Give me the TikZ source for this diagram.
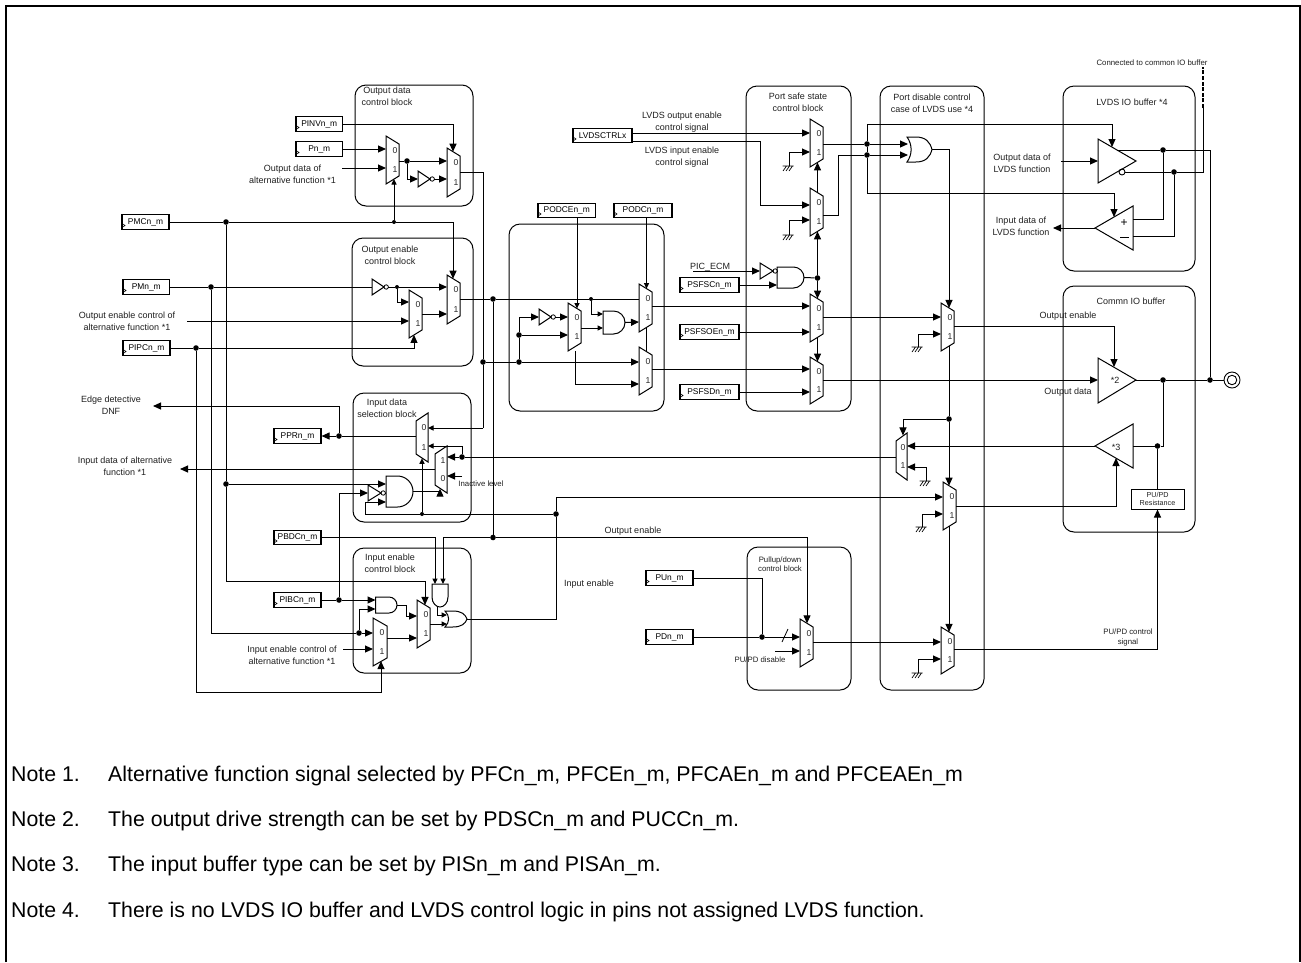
\documentclass[tikz,border=0pt]{standalone}
\usepackage{fontspec}
\setmainfont{Liberation Sans}
\usetikzlibrary{arrows.meta,calc}
\tikzset{
 sig/.style={line width=1pt,black},
 arr/.style={sig,-{Triangle[length=8pt,width=7pt]}},
 sarr/.style={sig,-{Triangle[length=5.5pt,width=5pt]}},
 gatepath/.style={line width=1pt,black,line join=miter},
 blockbox/.style={draw,line width=1pt,rounded corners=11pt,inner sep=0pt},
 regbox/.style={draw,line width=1.1pt,inner sep=0pt,minimum height=14.5pt,font=\fontsize{8.4}{10}\selectfont},
 bigdot/.style={circle,fill=black,inner sep=0pt,minimum size=5.6pt},
 smalldot/.style={circle,fill=black,inner sep=0pt,minimum size=4pt},
 txt/.style={inner sep=0pt,align=center,text=black!88,font=\fontsize{9}{11.6}\selectfont},
 tinytxt/.style={inner sep=0pt,align=center,text=black!88,font=\fontsize{7.8}{9.4}\selectfont},
 digit/.style={inner sep=0pt,text=black!85,font=\fontsize{8.6}{10}\selectfont},
 notetxt/.style={inner sep=0pt,anchor=base west,text=black,font=\fontsize{21.3}{24}\selectfont},
}
\newcount\labc
\newcommand{\lab}[4][txt]{\global\advance\labc by 1 \node[#1] (lab\the\labc) at (#2,#3) {#4};}
\newcommand{\blockn}[5]{\node[blockbox,minimum width={(#4-#2)*1pt},minimum height={(#5-#3)*1pt}] (#1) at ({(#2+#4)/2},{(#3+#5)/2}) {};}
\newcommand{\reg}[5]{% name x1 width ycenter text
 \node[regbox,minimum width=#3 pt] (#1) at ({#2+#3/2},#4) {#5};
 \draw[line width=0.6pt] (#2,#4+1.5) -- (#2+3,#4+3.5) -- (#2,#4+5.5);}
\def\ltop{0}\def\lbot{1}
\newcommand{\muxR}[9]{% name xl xr top bot y0 y1 yout xsel
 \pgfmathsetmacro\slnt{(#9-#2)*0.62}
 \draw[gatepath] (#2,#4) -- (#3,#4+8) -- (#3,#5-8) -- (#2,#5) -- cycle;
 \coordinate (#1-0) at (#2,#6); \coordinate (#1-1) at (#2,#7);
 \coordinate (#1-o) at (#3,#8);
 \coordinate (#1-t) at (#9,#4+\slnt); \coordinate (#1-b) at (#9,#5-\slnt);
 \node[digit] (#1-l0) at (#2+9,#4+14.5) {\ltop};
 \node[digit] (#1-l1) at (#2+9,#5-14.5) {\lbot};}
\newcommand{\muxL}[9]{% name xl xr top bot y0 y1 yout xsel
 \pgfmathsetmacro\slnt{(#3-#9)*0.62}
 \draw[gatepath] (#3,#4) -- (#2,#4+8) -- (#2,#5-8) -- (#3,#5) -- cycle;
 \coordinate (#1-0) at (#3,#6); \coordinate (#1-1) at (#3,#7);
 \coordinate (#1-o) at (#2,#8);
 \coordinate (#1-t) at (#9,#4+\slnt); \coordinate (#1-b) at (#9,#5-\slnt);
 \node[digit] (#1-l0) at (#3-4,#4+14.5) {\ltop};
 \node[digit] (#1-l1) at (#3-4,#5-14.5) {\lbot};}
\newcommand{\inv}[4]{% name x y xtip
 \draw[gatepath] (#2,#3-8) -- (#4,#3) -- (#2,#3+8) -- cycle;
 \draw[line width=0.8pt] (#4+2.2,#3) circle[radius=2.2pt];
 \coordinate (#1-i) at (#2,#3); \coordinate (#1-o) at (#4+4.4,#3);}
\newcommand{\andg}[5]{% name x top bot tip
 \pgfmathsetmacro\rr{(#4-#3)/2}
 \pgfmathsetmacro\xs{#5-\rr}
 \pgfmathsetmacro\mm{(#3+#4)/2}
 \pgfmathsetmacro\kk{0.55*\rr}
 \draw[gatepath] (#2,#3) -- (\xs,#3) .. controls (\xs+\kk,#3) and (#5,\mm-\kk) .. (#5,\mm)
   .. controls (#5,\mm+\kk) and (\xs+\kk,#4) .. (\xs,#4) -- (#2,#4) -- cycle;
 \coordinate (#1-o) at (#5,\mm);}
\newcommand{\org}[5]{% name x top bot tip
 \pgfmathsetmacro\mm{(#3+#4)/2}
 \pgfmathsetmacro\ww{#5-#2}
 \pgfmathsetmacro\hh{#4-#3}
 \draw[gatepath] (#2,#3) -- (#2+.35*\ww,#3) .. controls (#2+.75*\ww,#3) and (#5-.08*\ww,\mm-.3*\hh) .. (#5,\mm)
   .. controls (#5-.08*\ww,\mm+.3*\hh) and (#2+.75*\ww,#4) .. (#2+.35*\ww,#4) -- (#2,#4)
   .. controls (#2+.22*\ww,\mm+.2*\hh) and (#2+.22*\ww,\mm-.2*\hh) .. (#2,#3) -- cycle;
 \coordinate (#1-o) at (#5,\mm);}
\newcommand{\gndat}[3]{\coordinate (#1) at (#2,#3);
 \draw[line width=0.7pt] (#2-6.5,#3) -- (#2+4.5,#3)
  (#2-2.5,#3) -- (#2-6,#3+5) (#2+.5,#3) -- (#2-3,#3+5) (#2+3.5,#3) -- (#2,#3+5);}
\begin{document}
\begin{tikzpicture}[x=1pt,y=-1pt]
\useasboundingbox (0,0) rectangle (1301,962);
\coordinate (fa) at (6,962);
\coordinate (fb) at (6,6);
\coordinate (fc) at (1299.5,6);
\coordinate (fd) at (1299.5,962);
\draw[line width=2pt,line join=miter] (fa) -- (fb) -- (fc) -- (fd);
% blocks
\blockn{Bod}{355}{85}{473}{206}
\blockn{Boe}{352}{238}{473}{366}
\blockn{Bds}{353}{393}{471}{522}
\blockn{Bie}{353}{548}{471}{673}
\blockn{Bopen}{509}{224}{664}{411}
\blockn{Bsafe}{746}{86}{851}{411}
\blockn{Bpull}{747}{547}{851}{690}
\blockn{Bdis}{880}{86}{984}{690}
\blockn{Blvds}{1063}{86}{1195}{271}
\blockn{Bcom}{1063}{286}{1195}{532}
% registers
\reg{PINV}{296}{46.5}{124}{PINVn\_m}
\reg{Pn}{296}{46.5}{149}{Pn\_m}
\reg{PMC}{122}{47}{222}{PMCn\_m}
\reg{PM}{123}{46.5}{287}{PMn\_m}
\reg{PIP}{123}{47}{348}{PIPCn\_m}
\reg{PPR}{274}{47}{436}{PPRn\_m}
\reg{PBDC}{274}{47}{537.5}{PBDCn\_m}
\reg{PIBC}{274}{47}{600}{PIBCn\_m}
\reg{PODCE}{538}{57.5}{210.5}{PODCEn\_m}
\reg{PODC}{614}{58}{210.5}{PODCn\_m}
\reg{LVDS}{573}{59}{135.5}{LVDSCTRLx}
\reg{PSFSC}{680}{59}{285}{PSFSCn\_m}
\reg{PSFSOE}{680}{59}{332}{PSFSOEn\_m}
\reg{PSFSD}{680}{59}{392}{PSFSDn\_m}
\reg{PU}{646}{47}{578}{PUn\_m}
\reg{PD}{646}{47}{637}{PDn\_m}
\node[draw,line width=1pt,inner sep=0pt,minimum width=53pt,minimum height=20pt,align=center,text=black!88,font=\fontsize{7.2}{8}\selectfont] (PUPD) at (1157.5,499) {PU/PD\\Resistance};
% muxes
\muxR{M1}{386}{399}{136}{184}{149}{168}{161}{394}
\muxR{M2}{447}{460}{148}{197}{161}{179}{172}{453}
\muxR{M3}{447}{460}{275}{324}{287}{314}{299}{453}
\muxR{M4}{409}{422}{290}{338}{302}{321}{314}{414}
\muxR{M5}{568}{581}{303}{351}{317}{335}{328}{577}
\muxR{M6}{639}{652}{284}{332}{299}{322}{306}{646.5}
\muxR{M7}{639}{652}{347}{395}{362}{384}{369}{646.5}
\muxR{M8}{810}{823}{119}{167}{133}{152}{144}{817.5}
\muxR{Ma}{810}{823}{188}{236}{205}{220}{215}{817.5}
\muxR{M9}{810}{823}{294}{342}{306}{332}{317}{817.5}
\muxR{M10}{810}{823}{357}{404}{369}{392}{380}{817.5}
\muxR{P1}{941}{954}{303}{351}{317}{334}{326}{949}
\muxR{P3}{943}{956}{482}{530}{497}{514}{506}{949}
\muxR{P4}{941}{954}{627}{674}{642}{659}{649}{949}
\muxR{PP}{800}{813}{619}{667}{637}{651}{642}{807}
\muxR{M13}{417}{430}{600}{648}{616}{638}{624}{425}
\muxR{M14}{373}{387}{618}{666}{633}{649}{638}{381}
\muxL{P2}{896}{907}{433}{480}{446}{467}{457}{903}
\muxL{M11}{416}{428}{413}{462}{428}{446}{436}{422}
\def\ltop{1}\def\lbot{0}
\muxL{M12}{435}{447}{446}{493}{457}{476}{469}{440}
\def\ltop{0}\def\lbot{1}
% gates
\inv{Inv1}{372}{287}{384}
\inv{Inv2}{418}{179}{430}
\inv{Inv3}{368}{493}{381}
\inv{Inv4}{539}{317}{551}
\inv{Inv5}{760}{271}{773}
\andg{A1}{386}{476}{507}{413}
\andg{A2}{375.5}{597}{613}{397}
\andg{A4}{603}{311}{334}{625}
\andg{A5}{777}{267}{288}{804}
\draw[gatepath] (432,584) -- (448,584) -- (448,597) .. controls (448,603) and (444,607) .. (440,607) .. controls (436,607) and (432,603) .. (432,597) -- cycle;
\org{O1}{445}{611}{627}{467}
\org{O2}{907}{137}{162}{932}
% buffers
\draw[gatepath] (1098,139) -- (1136,161) -- (1098,183) -- cycle;
\draw[gatepath] (1133,206) -- (1095,228) -- (1133,250) -- cycle;
\draw[gatepath] (1098,358) -- (1136,380) -- (1098,403) -- cycle;
\draw[gatepath] (1133,424) -- (1095,446) -- (1133,468) -- cycle;
\draw[line width=0.9pt] (1122,172) circle[radius=3pt];
\node[circle,draw,line width=0.9pt,inner sep=0pt,minimum size=16pt] (ringO) at (1232,380) {};
\node[circle,draw,line width=0.9pt,inner sep=0pt,minimum size=9.5pt] (ringI) at (1232,380) {};
\node[inner sep=0pt,font=\fontsize{12}{12}\selectfont] (plus) at (1124,223) {+};
\draw[line width=0.7pt] (1120,237) -- (1129,237);
% grounds
\gndat{g1}{789}{166}
\gndat{g2}{789}{235}
\gndat{g3}{918}{347}
\gndat{g4}{922}{527}
\gndat{g5}{918}{673}
\gndat{g6}{926}{481}
% dots
\node[bigdot] (jPMC1) at (226,222) {};
\node[smalldot] (jPMC2) at (394,222) {};
\node[bigdot] (jPM) at (211,287) {};
\node[bigdot] (jPIP) at (196,348) {};
\node[smalldot] (jI1) at (397,287) {};
\node[bigdot] (jOD) at (407,161) {};
\node[bigdot] (jAnd1) at (226,484) {};
\node[bigdot] (jM14) at (359,633) {};
\node[bigdot] (jPIBC) at (339,600) {};
\node[bigdot] (jPPR) at (339,436) {};
\node[bigdot] (jR) at (462,457) {};
\node[smalldot] (j422) at (422,514) {};
\node[bigdot] (jIE) at (556,514) {};
\node[bigdot] (jOE) at (493,537.5) {};
\node[bigdot] (jY) at (493,299) {};
\node[bigdot] (jO2) at (483,362) {};
\node[bigdot] (jX) at (519,362) {};
\node[bigdot] (jW) at (519,335) {};
\node[smalldot] (jAnd) at (591,299) {};
\node[bigdot] (jAO) at (817.5,278) {};
\node[bigdot] (jL1) at (867,144) {};
\node[bigdot] (jL2) at (867,155) {};
\node[bigdot] (jB1) at (1163,150) {};
\node[bigdot] (jB2) at (1174,172) {};
\node[bigdot] (jB3) at (1163,380) {};
\node[bigdot] (jB4) at (1210,380) {};
\node[bigdot] (jT) at (1157.5,446) {};
\node[bigdot] (jP) at (949,419) {};
\node[bigdot] (jPD) at (762,637) {};
% free ends and pins
\coordinate (a1) at (342,168);
\coordinate (a2) at (187,321);
\coordinate (a3) at (343,649);
\coordinate (c1) at (196,692);
\coordinate (c2) at (226,581);
\coordinate (c3) at (211,633);
\coordinate (c4) at (339,493);
\coordinate (c5) at (406,616);
\coordinate (c6) at (443,537.5);
\coordinate (c8) at (556,619);
\coordinate (c9) at (556,497);
\coordinate (c10) at (365,514);
\coordinate (c11) at (365,502);
\coordinate (c12) at (575,351);
\coordinate (c13) at (575,384);
\coordinate (A1a) at (386,484);
\coordinate (A1b) at (386,502);
\coordinate (A1c) at (386,493);
\coordinate (A2a) at (375.5,600);
\coordinate (A2b) at (375.5,609);
\coordinate (A3a) at (435,584);
\coordinate (A3b) at (443,584);
\coordinate (A3o) at (437,606);
\coordinate (A4a) at (603,314);
\coordinate (A4b) at (603,328);
\coordinate (A5a) at (777,271);
\coordinate (A5b) at (777,285);
\coordinate (O1a) at (447,615);
\coordinate (O1b) at (447,624);
\coordinate (O2a) at (908,144);
\coordinate (O2b) at (908,155);
\coordinate (e1) at (153,406);
\coordinate (e2) at (180,469);
\coordinate (e3) at (462,476);
\coordinate (e4) at (483,428);
\coordinate (e5) at (483,172);
\coordinate (e6) at (519,317);
\coordinate (L1) at (632,133);
\coordinate (L2) at (632,141);
\coordinate (L3) at (760,205);
\coordinate (e7) at (693,271);
\coordinate (e8) at (838,215);
\coordinate (e9) at (838,155);
\coordinate (e10) at (867,124);
\coordinate (e11) at (867,193);
\coordinate (Bt) at (1112,147);
\coordinate (Ct) at (1114,217);
\coordinate (Bi) at (1098,161);
\coordinate (Bin) at (1061,161);
\coordinate (Bo) at (1117,150);
\coordinate (Bn) at (1125,172);
\coordinate (Bc) at (1210,150);
\coordinate (Bd1) at (1203,172);
\coordinate (Bd2) at (1203,108);
\coordinate (Bd3) at (1203,67);
\coordinate (Cp) at (1133,219);
\coordinate (Cm) at (1133,236);
\coordinate (Co) at (1095,228);
\coordinate (Ce) at (1053,228);
\coordinate (D2t) at (1114,367);
\coordinate (D2i) at (1098,380);
\coordinate (D2o) at (1136,380);
\coordinate (T3i) at (1133,446);
\coordinate (T3o) at (1095,446);
\coordinate (T3b) at (1116,458);
\coordinate (e12) at (775,651);
% wires: output data
\draw[arr] (PINV.east) -| (M2-t);
\draw[arr] (Pn.east) -- (M1-0);
\draw[arr] (a1) -- (M1-1);
\draw[sig] (PMC.east) -- (jPMC1) -- (jPMC2);
\draw[arr] (jPMC2) -| (M3-t);
\draw[sarr] (jPMC2) -- (M1-b);
\draw[sig] (M1-o) -- (jOD);
\draw[arr] (jOD) -- (M2-0);
\draw[arr] (jOD) |- (Inv2-i);
\draw[arr] (Inv2-o) -- (M2-1);
% output enable
\draw[sig] (PM.east) -- (jPM) -- (Inv1-i);
\draw[sig] (Inv1-o) -- (jI1);
\draw[arr] (jI1) -- (M3-0);
\draw[arr] (jI1) |- (M4-0);
\draw[arr] (M4-o) -- (M3-1);
\draw[arr] (a2) -- (M4-1);
\draw[sig] (PIP.east) -- (jPIP);
\draw[arr] (jPIP) -| (M4-b);
\draw[sig] (jPIP) -- (c1);
\draw[arr] (c1) -| (M14-b);
% vertical buses
\draw[sig] (jPMC1) -- (jAnd1) -- (c2);
\draw[arr] (c2) -| (M13-t);
\draw[arr] (jAnd1) -- (A1a);
\draw[sig] (jPM) -- (c3) -- (jM14);
\draw[arr] (jM14) -- (M14-0);
\draw[arr] (jM14) |- (A2b);
\draw[sig] (PIBC.east) -- (jPIBC);
\draw[arr] (jPIBC) -- (A2a);
\draw[sig] (jPIBC) -- (c4);
\draw[arr] (c4) -- (Inv3-i);
\draw[sig] (Inv3-o) -- (A1c);
% input enable
\draw[arr] (a3) -- (M14-1);
\draw[arr] (A2-o) -| (c5) -- (M13-0);
\draw[arr] (M14-o) -- (M13-1);
\draw[sarr] (M13-o) -- (O1b);
\draw[sarr] (A3o) |- (O1a);
\draw[sarr] (PBDC.east) -| (A3a);
\draw[sig] (c6) -- (jOE);
\draw[sarr] (c6) -- (A3b);
\draw[arr] (jOE) -| (PP-t);
\draw[sig] (O1-o) -- (c8) -- (jIE);
\draw[arr] (jIE) |- (P3-0);
\draw[sig] (jIE) -- (j422) -- (c10);
\draw[arr] (c10) |- (A1b);
\draw[sarr] (j422) -- (M11-b);
\draw[arr] (A1-o) -| (M12-b);
% input data
\draw[sig] (P2-o) -- (jR);
\draw[arr] (jR) -- (M12-0);
\draw[sarr] (jR) |- (M11-1);
\draw[arr] (e3) -- (M12-1);
\draw[arr] (M12-o) -- (e2);
\draw[sig] (M11-o) -- (jPPR);
\draw[arr] (jPPR) -- (PPR.east);
\draw[arr] (jPPR) |- (e1);
\draw[sig] (M2-o) -- (e5) -- (jO2) -- (e4);
\draw[sarr] (e4) -- (M11-0);
% open drain block
\draw[sig] (jO2) -- (jX);
\draw[arr] (jX) -- (M7-0);
\draw[sig] (jX) -- (jW);
\draw[arr] (jW) -- (M5-1);
\draw[arr] (jW) |- (Inv4-i);
\draw[arr] (Inv4-o) -- (M5-0);
\draw[sig] (M3-o) -- (jY) -- (jAnd);
\draw[sig] (jAnd) -- (M6-0);
\draw[sig] (jY) -- (jOE);
\draw[sarr] (jAnd) |- (A4a);
\draw[sarr] (M5-o) -- (A4b);
\draw[arr] (A4-o) -- (M6-1);
\draw[sarr] (M5-t |- PODCE.south) -- (M5-t);
\draw[sarr] (M6-t |- PODC.south) -- (M6-t);
\draw[sig] (c12) -- (c13);
\draw[arr] (c13) -- (M7-1);
\draw[sig] (M6-b) -- (M7-t);
\draw[arr] (M6-o) -- (M9-0);
\draw[arr] (M7-o) -- (M10-0);
% safe state
\draw[arr] (L1) -- (M8-0);
\draw[sig] (L2) -| (L3);
\draw[arr] (L3) -- (Ma-0);
\draw[arr] (g1) |- (M8-1);
\draw[arr] (g2) |- (Ma-1);
\draw[arr] (Ma-t) -- (M8-b);
\draw[arr] (jAO) -- (Ma-b);
\draw[arr] (jAO) -- (M9-t);
\draw[arr] (M9-b) -- (M10-t);
\draw[sig] (A5-o) -- (jAO);
\draw[arr] (e7) -- (Inv5-i);
\draw[sig] (Inv5-o) -- (A5a);
\draw[arr] (PSFSC.east) -- (A5b);
\draw[arr] (PSFSOE.east) -- (M9-1);
\draw[arr] (PSFSD.east) -- (M10-1);
% LVDS
\draw[sig] (M8-o) -- (jL1);
\draw[arr] (jL1) -- (O2a);
\draw[sig] (Ma-o) -- (e8) -- (e9) -- (jL2);
\draw[arr] (jL2) -- (O2b);
\draw[sig] (e10) -- (jL1) -- (jL2) -- (e11);
\draw[arr] (e10) -| (Bt);
\draw[arr] (e11) -| (Ct);
\draw[arr] (O2-o) -| (P1-t);
\draw[sig] (P1-b) -- (jP);
\draw[arr] (jP) -- (P3-t);
\draw[arr] (jP) -| (P2-t);
\draw[arr] (P3-b) -- (P4-t);
\draw[arr] (M9-o) -- (P1-0);
\draw[arr] (M10-o) -- (D2i);
\draw[arr] (P1-o) -| (D2t);
\draw[arr] (Bin) -- (Bi);
\draw[sig] (Bo) -- (jB1) -- (Bc) -- (jB4);
\draw[sig] (Bn) -- (jB2) -- (Bd1) -- (Bd2);
\draw[line width=1.4pt,dash pattern=on 4pt off 1.6pt] (Bd2) -- (Bd3);
\draw[sig] (jB1) |- (Cp);
\draw[sig] (jB2) |- (Cm);
\draw[arr] (Co) -- (Ce);
\draw[sig] (D2o) -- (jB3) -- (jB4) -- (ringO);
\draw[sig] (jB3) |- (jT) -- (T3i);
\draw[sig] (jT) -- (PUPD.north);
\draw[arr] (T3o) -- (P2-0);
\draw[arr] (g6) |- (P2-1);
\draw[arr] (g3) |- (P1-1);
\draw[arr] (g4) |- (P3-1);
\draw[arr] (g5) |- (P4-1);
\draw[arr] (P3-o) -| (T3b);
\draw[arr] (P4-o) -| (PUPD.south);
% pull
\draw[sig] (PU.east) -| (jPD);
\draw[sig] (PD.east) -- (jPD);
\draw[arr] (jPD) -- (PP-0);
\draw[arr] (e12) -- (PP-1);
\draw[arr] (PP-o) -- (P4-0);
\draw[line width=0.8pt] (782,642) -- (788,629);
% labels
\lab{387}{96.5}{Output data\\control block}
\lab{292.5}{174}{Output data of\\alternative function *1}
\lab{390}{255.5}{Output enable\\control block}
\lab{127}{321}{Output enable control of\\alternative function *1}
\lab{111}{405.5}{Edge detective\\DNF}
\lab{125}{466.5}{Input data of alternative\\function *1}
\lab{387}{408}{Input data\\selection block}
\lab{390}{563.5}{Input enable\\control block}
\lab{292}{655.5}{Input enable control of\\alternative function *1}
\lab[tinytxt]{481}{484}{Inactive level}
\lab{633}{531}{Output enable}
\lab{589}{584}{Input enable}
\lab{682}{122}{LVDS output enable\\control signal}
\lab{682}{157}{LVDS input enable\\control signal}
\lab{710}{267}{PIC\_ECM}
\lab{798}{102}{Port safe state\\control block}
\lab[tinytxt]{780}{564}{Pullup/down\\control block}
\lab[tinytxt]{760}{660}{PU/PD disable}
\lab{932}{103.5}{Port disable control\\case of LVDS use *4}
\lab{1132}{102}{LVDS IO buffer *4}
\lab{1131}{301}{Commn IO buffer}
\lab[tinytxt]{1152}{63}{Connected to common IO buffer}
\lab{1022}{163.5}{Output data of\\LVDS function}
\lab{1021}{226.5}{Input data of\\LVDS function}
\lab{1068}{316}{Output enable}
\lab{1068}{392}{Output data}
\lab{1115}{380}{*2}
\lab{1116}{447}{*3}
\lab[tinytxt]{1128}{637.5}{PU/PD control\\signal}
% notes
\node[notetxt] (n1a) at (11,781) {Note 1.};
\node[notetxt] (n1b) at (108,781) {Alternative function signal selected by PFCn\_m, PFCEn\_m, PFCAEn\_m and PFCEAEn\_m};
\node[notetxt] (n2a) at (11,826) {Note 2.};
\node[notetxt] (n2b) at (108,826) {The output drive strength can be set by PDSCn\_m and PUCCn\_m.};
\node[notetxt] (n3a) at (11,871) {Note 3.};
\node[notetxt] (n3b) at (108,871) {The input buffer type can be set by PISn\_m and PISAn\_m.};
\node[notetxt] (n4a) at (11,917) {Note 4.};
\node[notetxt] (n4b) at (108,917) {There is no LVDS IO buffer and LVDS control logic in pins not assigned LVDS function.};
\end{tikzpicture}
\end{document}
